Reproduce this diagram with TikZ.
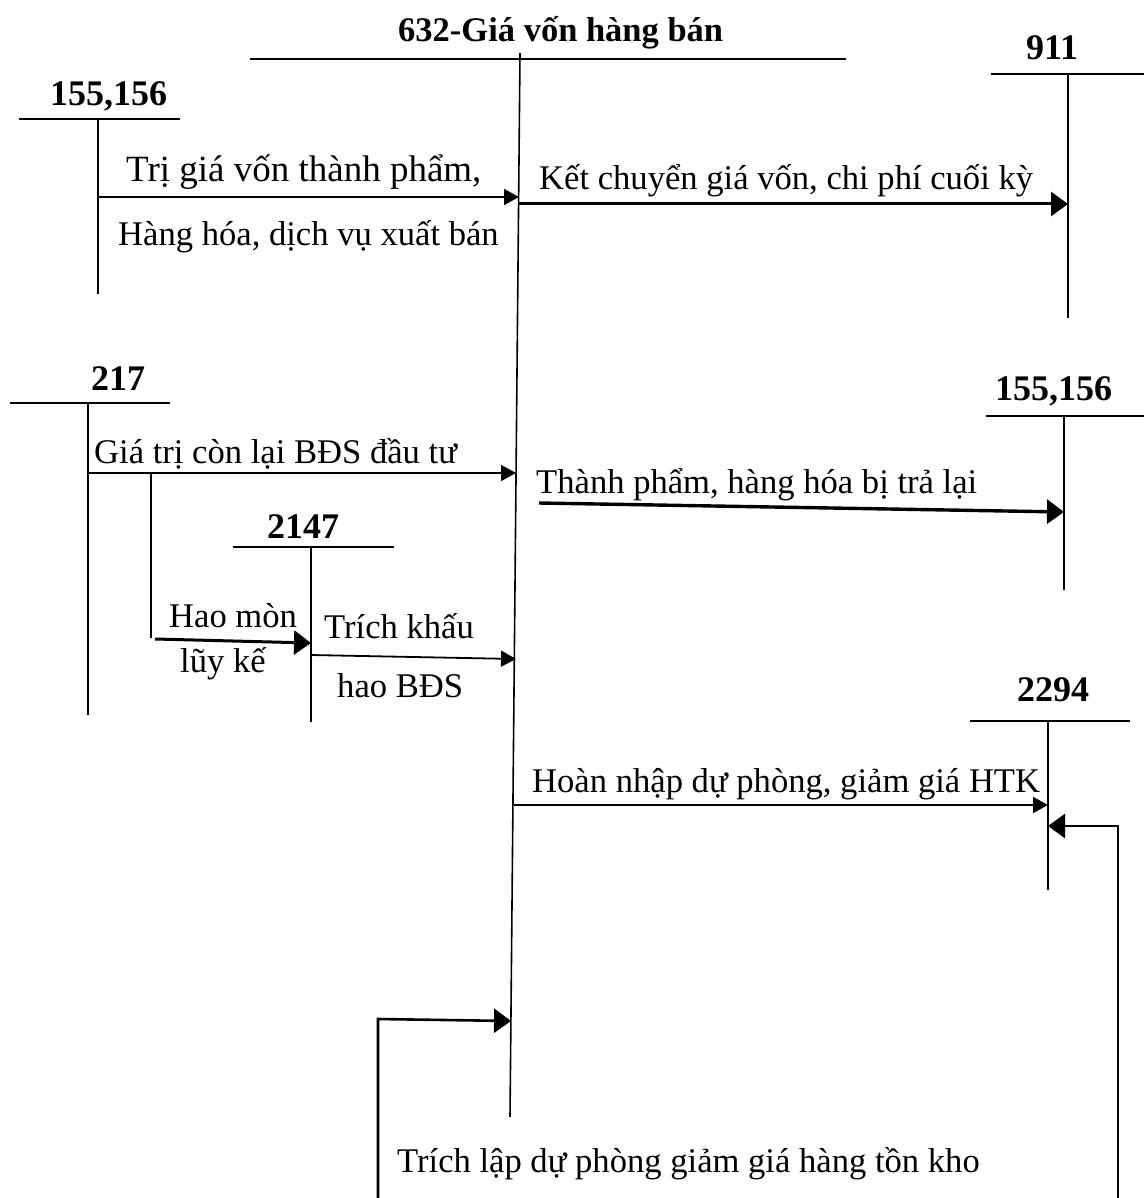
\documentclass[tikz,border=0pt]{standalone}
\usepackage{fontspec}
\setmainfont{Liberation Serif}
\usetikzlibrary{arrows.meta}

\begin{document}
\begin{tikzpicture}[x=1pt,y=-1pt,
  acct/.style={font=\fontsize{36}{40}\selectfont\bfseries,anchor=base west,inner sep=0pt},
  lbl/.style={font=\fontsize{34.6}{40}\selectfont,anchor=base west,inner sep=0pt},
  tline/.style={line width=1.6pt},
  arrthin/.style={line width=1.8pt,-{Triangle[length=15pt,width=16pt]}},
  arrthick/.style={line width=3pt,-{Triangle[length=17pt,width=24pt]}}]
\useasboundingbox (0,0) rectangle (1144,1198);

% T accounts: left/right of the top bar, top/bottom of the stem
\coordinate (l632) at (250,59);  \coordinate (r632) at (846,59);
\coordinate (t632) at (520,53);  \coordinate (b632) at (510,1117);
\coordinate (l155a) at (19,119); \coordinate (r155a) at (180,119);
\coordinate (t155a) at (98,119); \coordinate (b155a) at (98,294);
\coordinate (l911) at (991,74);  \coordinate (r911) at (1144,74);
\coordinate (t911) at (1068,74); \coordinate (b911) at (1068,318);
\coordinate (l217) at (10,403);  \coordinate (r217) at (170,403);
\coordinate (t217) at (88,403);  \coordinate (b217) at (88,715);
\coordinate (l2147) at (233,547); \coordinate (r2147) at (394,547);
\coordinate (t2147) at (311,547); \coordinate (b2147) at (311,722);
\coordinate (l155b) at (986,416); \coordinate (r155b) at (1144,416);
\coordinate (t155b) at (1064,416); \coordinate (b155b) at (1064,590);
\coordinate (l2294) at (970,721); \coordinate (r2294) at (1130,721);
\coordinate (t2294) at (1048,721); \coordinate (b2294) at (1048,890);
\foreach \a in {632,155a,911,217,2147,155b,2294}
  \draw[tline] (l\a)--(r\a) (t\a)--(b\a);

\node[acct,font=\fontsize{34.5}{40}\selectfont\bfseries] (n632) at (398,42) {632-Giá vốn hàng bán};
\node[acct] (n155a) at (50,106) {155,156};
\node[acct] (n911) at (1026,60) {911};
\node[acct] (n217) at (91,390) {217};
\node[acct] (n2147) at (267,538) {2147};
\node[acct] (n155b) at (995,400) {155,156};
\node[acct] (n2294) at (1017,701) {2294};

% arrow ends
\coordinate (s1) at (98,197);   \coordinate (e1) at (519,197);
\coordinate (s2) at (519,204);  \coordinate (e2) at (1068,204);
\coordinate (s3) at (88,473);   \coordinate (e3) at (516,473);
\coordinate (k4) at (151,473);  \coordinate (m4) at (151,638);
\coordinate (s4) at (155,639);  \coordinate (e4) at (311,643);
\coordinate (s5) at (311,655);  \coordinate (e5) at (516,659);
\coordinate (s6) at (539,503);  \coordinate (e6) at (1064,512);
\coordinate (s7) at (514,805);  \coordinate (e7) at (1048,805);
\coordinate (s8) at (1118,1198); \coordinate (m8) at (1118,826); \coordinate (e8) at (1048,826);
\coordinate (s9) at (378,1198); \coordinate (m9) at (378,1019); \coordinate (e9) at (511,1021);

\draw[arrthin] (s1)--(e1);
\draw[arrthick] (s2)--(e2);
\draw[arrthin,line width=1.6pt] (s3)--(e3);
\draw[tline] (k4)--(m4);
\draw[arrthick] (s4)--(e4);
\draw[arrthin] (s5)--(e5);
\draw[arrthick,line width=3.4pt] (s6)--(e6);
\draw[arrthin,line width=1.6pt] (s7)--(e7);
\draw[arrthick,line width=2.6pt] (s8)--(m8)--(e8);
\draw[arrthick,line width=2.6pt] (s9)--(m9)--(e9);

\node[lbl,font=\fontsize{37}{40}\selectfont] (t1) at (126,182) {Trị giá vốn thành phẩm,};
\node[lbl] (t1b) at (118,245) {Hàng hóa, dịch vụ xuất bán};
\node[lbl] (t2) at (539,190) {Kết chuyển giá vốn, chi phí cuối kỳ};
\node[lbl] (t3) at (94,463) {Giá trị còn lại BĐS đầu tư};
\node[lbl] (t4) at (169,627) {Hao mòn};
\node[lbl] (t4b) at (180,672) {lũy kế};
\node[lbl] (t5) at (324,638) {Trích khấu};
\node[lbl] (t5b) at (337,697) {hao BĐS};
\node[lbl] (t6) at (536,493) {Thành phẩm, hàng hóa bị trả lại};
\node[lbl] (t7) at (532,792) {Hoàn nhập dự phòng, giảm giá HTK};
\node[lbl] (t9) at (397,1172) {Trích lập dự phòng giảm giá hàng tồn kho};
\end{tikzpicture}
\end{document}
